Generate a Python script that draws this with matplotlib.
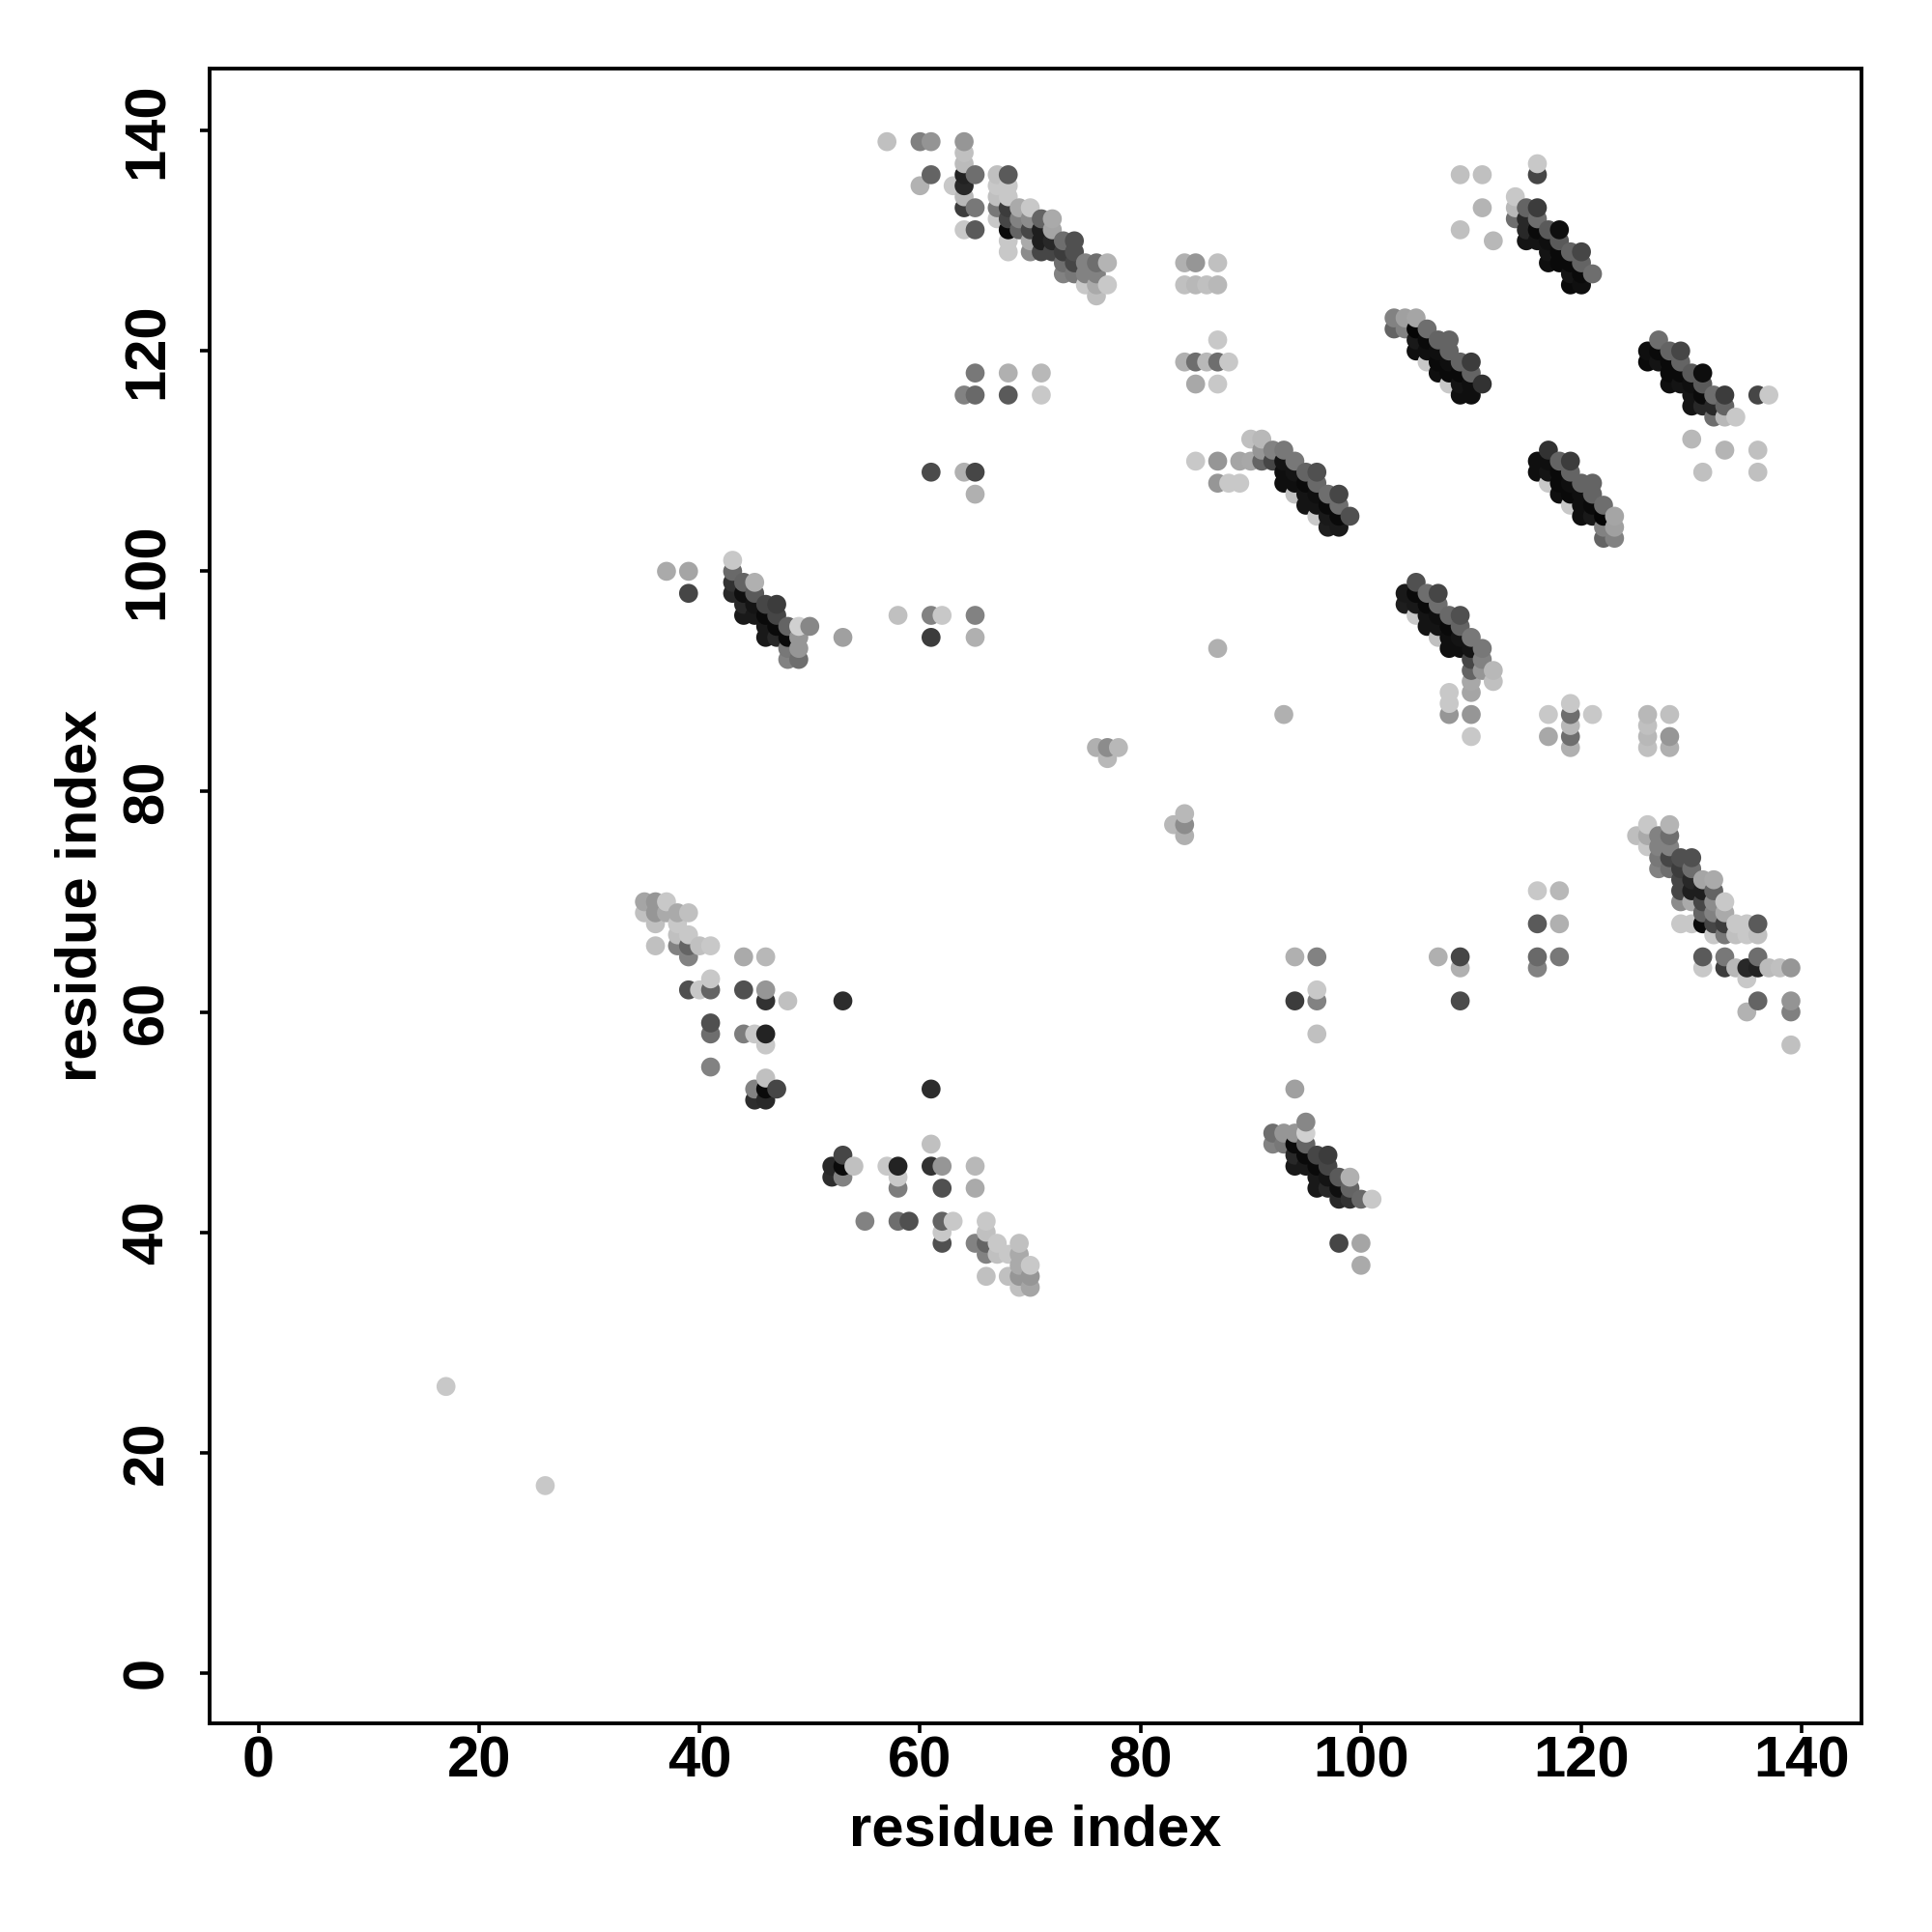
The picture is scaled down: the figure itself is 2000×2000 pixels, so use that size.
import numpy as np
import matplotlib
matplotlib.use("Agg")
import matplotlib.pyplot as plt

plt.rcParams["font.family"] = ["Liberation Sans", "DejaVu Sans"]

# contact map is symmetric, so only the half with low < high is listed
# each group: low residue, high residue, grey level 0-255

# strand at 57-77 vs 125-139
low_a = [57, 60, 61, 64, 64, 64,
         61, 64, 65, 67, 68,
         60, 63, 64, 67, 68,
         64, 67, 68,
         64, 65, 67, 68, 69, 70,
         67, 68, 69, 70, 71, 72,
         64, 65, 68, 69, 70, 71, 72,
         68, 70, 71, 72, 73, 74,
         68, 70, 71, 72, 73, 74,
         73, 74, 75, 76, 77,
         73, 74, 75, 76,
         75, 76, 77,
         76]
high_a = [139, 139, 139, 139, 138, 137,
          136, 136, 136, 136, 136,
          135, 135, 135, 135, 135,
          134, 134, 134,
          133, 133, 133, 133, 133, 133,
          132, 132, 132, 132, 132, 132,
          131, 131, 131, 131, 131, 131, 131,
          130, 130, 130, 130, 130, 130,
          129, 129, 129, 129, 129, 129,
          128, 128, 128, 128, 128,
          127, 127, 127, 127,
          126, 126, 126,
          125]
grey_a = [192, 128, 148, 150, 192, 187,
          100, 34, 110, 192, 90,
          178, 200, 40, 200, 200,
          184, 192, 200,
          60, 120, 120, 60, 170, 200,
          200, 70, 130, 140, 100, 170,
          200, 90, 10, 100, 70, 30, 165,
          200, 170, 30, 40, 110, 80,
          200, 140, 70, 70, 60, 80,
          110, 70, 130, 110, 180,
          130, 120, 130, 130,
          200, 170, 200,
          190]

# 109-121 vs 126-137
low_b = [116, 109, 111, 116, 114,
         111, 114, 115, 116,
         114, 115, 116,
         109, 115, 116, 117, 118,
         112, 115, 116, 117, 118,
         117, 118, 119, 120,
         117, 118, 119, 120,
         119, 120, 121,
         119, 120]
high_b = [137, 136, 136, 136, 134,
          133, 133, 133, 133,
          132, 132, 132,
          131, 131, 131, 131, 131,
          130, 130, 130, 130, 130,
          129, 129, 129, 129,
          128, 128, 128, 128,
          127, 127, 127,
          126, 126]
grey_b = [200, 192, 192, 70, 200,
          180, 184, 100, 60,
          110, 40, 110,
          192, 40, 10, 90, 14,
          184, 20, 20, 15, 90,
          20, 10, 100, 70,
          15, 10, 10, 100,
          20, 10, 110,
          10, 15]

# 103-111 vs 116-123
low_c = [111, 110, 110, 110, 110,
         109, 109, 109, 109,
         108, 108, 108, 108, 108,
         107, 107, 107, 107,
         106, 106, 106, 106,
         105, 105, 105, 105,
         104, 104, 103, 103]
high_c = [117, 116, 117, 118, 119,
          116, 117, 118, 119,
          117, 118, 119, 120, 121,
          118, 119, 120, 121,
          119, 120, 121, 122,
          120, 121, 122, 123,
          122, 123, 122, 123]
grey_c = [50, 15, 15, 100, 60,
          15, 20, 10, 100,
          200, 10, 15, 100, 100,
          15, 10, 15, 100,
          200, 15, 10, 110,
          15, 25, 5, 165,
          130, 160, 100, 130]

# 85-99 vs 104-112
low_d = [90, 91,
         91, 92, 93,
         85, 87, 89, 90, 91, 92, 93, 94,
         93, 94, 95, 96,
         87, 88, 89, 93, 94, 95, 96,
         94, 95, 96, 97, 98,
         95, 96, 97, 98,
         96, 97, 98, 99,
         97, 98]
high_d = [112, 112,
          111, 111, 111,
          110, 110, 110, 110, 110, 110, 110, 110,
          109, 109, 109, 109,
          108, 108, 108, 108, 108, 108, 108,
          107, 107, 107, 107, 107,
          106, 106, 106, 106,
          105, 105, 105, 105,
          104, 104]
grey_d = [192, 184,
          150, 130, 120,
          200, 150, 165, 168, 100, 70, 20, 120,
          15, 20, 100, 80,
          150, 200, 200, 15, 15, 10, 105,
          192, 20, 15, 110, 70,
          20, 20, 10, 110,
          200, 25, 10, 80,
          30, 25]

# 37-65 vs 92-101
low_e = [43,
         37, 39, 43,
         43, 44, 45,
         39, 43, 44, 45,
         44, 45, 46, 47,
         44, 45, 46, 47, 58, 61, 62, 65,
         46, 47, 48, 49, 50,
         46, 47, 48, 49, 53, 61, 65,
         48, 49,
         48, 49]
high_e = [101,
          100, 100, 100,
          99, 99, 99,
          98, 98, 98, 98,
          97, 97, 97, 97,
          96, 96, 96, 96, 96, 96, 96, 96,
          95, 95, 95, 95, 95,
          94, 94, 94, 94, 94, 94, 94,
          93, 93,
          92, 92]
grey_e = [200,
          170, 165, 105,
          50, 100, 176,
          70, 40, 15, 90,
          40, 20, 70, 60,
          25, 25, 10, 70, 192, 130, 200, 130,
          25, 10, 100, 208, 135,
          25, 40, 10, 150, 160, 60, 176,
          120, 150,
          130, 110]

# 35-53 vs 52-70
low_f = [35, 36, 37,
         35, 36, 37, 38, 39,
         36, 38,
         38, 39,
         36, 38, 39, 40, 41,
         39, 44, 46,
         41,
         39, 40, 41, 44, 46,
         46, 48, 53,
         41,
         41, 44, 45, 46,
         46,
         41,
         46,
         45, 46, 47,
         45, 46]
high_f = [70, 70, 70,
          69, 69, 69, 69, 69,
          68, 68,
          67, 67,
          66, 66, 66, 66, 66,
          65, 65, 65,
          63,
          62, 62, 62, 62, 62,
          61, 61, 61,
          59,
          58, 58, 58, 58,
          57,
          55,
          54,
          53, 53, 53,
          52, 52]
grey_f = [165, 150, 200,
          192, 150, 170, 170, 192,
          192, 200,
          192, 200,
          192, 130, 100, 192, 200,
          130, 170, 184,
          200,
          80, 200, 100, 80, 150,
          50, 192, 45,
          80,
          110, 125, 200, 35,
          200,
          130,
          192,
          130, 10, 70,
          45, 40]

# isolated contacts
low_g = [17, 76, 77, 78, 77, 87,
         84, 85, 87, 84, 85, 86, 87,
         84, 85, 86, 87, 88, 87, 85, 87,
         71, 71, 68, 68, 65, 65, 65, 65, 64, 64, 61]
high_g = [26, 84, 84, 84, 83, 93,
          128, 128, 128, 126, 126, 126, 126,
          119, 119, 119, 119, 119, 121, 117, 117,
          116, 118, 116, 118, 107, 109, 116, 118, 109, 116, 109]
grey_g = [200, 176, 140, 184, 184, 176,
          176, 150, 192, 192, 184, 192, 184,
          176, 110, 184, 110, 200, 200, 168, 200,
          200, 184, 90, 176, 176, 70, 105, 120, 176, 130, 75]

low = np.array(low_a + low_b + low_c + low_d + low_e + low_f + low_g)
high = np.array(high_a + high_b + high_c + high_d + high_e + high_f + high_g)
grey = np.array(grey_a + grey_b + grey_c + grey_d + grey_e + grey_f + grey_g)

x = np.concatenate([low, high])
y = np.concatenate([high, low])
g = np.concatenate([grey, grey]) / 255.0
# later residues get painted over earlier ones
order = np.lexsort((y, x))

ticks = [0, 20, 40, 60, 80, 100, 120, 140]

fig = plt.figure(figsize=(10, 10), dpi=200)
ax = fig.add_axes([216.7 / 2000, 216 / 2000, 1710.3 / 2000, 1712.6 / 2000])

ax.scatter(x[order], y[order], s=50, c=np.column_stack([g[order]] * 3),
           linewidths=0, clip_on=False)

ax.set_xlim(-4.47, 145.4)
ax.set_ylim(-4.58, 145.6)
ax.set_xticks(ticks)
ax.set_yticks(ticks)
for s in ax.spines.values():
    s.set_linewidth(1.4)
ax.tick_params(axis="both", length=3.6, width=1.3)
ax.tick_params(axis="x", pad=1)
ax.tick_params(axis="y", pad=9.5)
for t in ax.get_xticklabels():
    t.set_fontsize(21.5)
    t.set_fontweight("bold")
for t in ax.get_yticklabels():
    t.set_fontsize(21.5)
    t.set_fontweight("bold")
    t.set_rotation(90)
    t.set_va("center")

ax.set_xlabel("residue index", fontsize=21.5, fontweight="bold", labelpad=5.5)
ax.set_ylabel("residue index", fontsize=21.5, fontweight="bold", labelpad=5)

fig.savefig("out.png", dpi=200)
